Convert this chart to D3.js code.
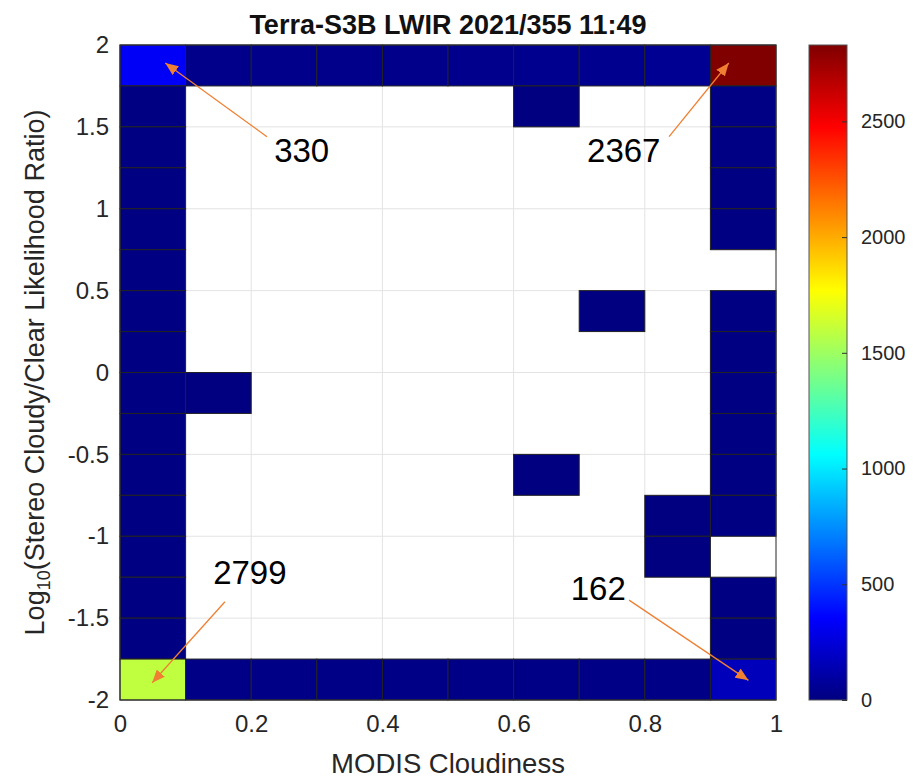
<!DOCTYPE html>
<html>
<head>
<meta charset="utf-8">
<script src="https://cdn.jsdelivr.net/npm/d3@7"></script>
<style>
body { margin: 0; background: #fff; }
text { font-family: "Liberation Sans", Arial, sans-serif; }
</style>
</head>
<body>
<div id="chart"></div>
<script>
// bin edges (x = MODIS cloudiness, y = log10 ratio, top row first)
const xEdges = [0, 0.1, 0.2, 0.3, 0.4, 0.5, 0.6, 0.7, 0.8, 0.9, 1];
const yEdges = [2, 1.75, 1.5, 1.25, 1, 0.75, 0.5, 0.25, 0, -0.25, -0.5, -0.75, -1, -1.25, -1.5, -1.75, -2];

// counts per cell, one row per y bin (top to bottom), 0 = empty
const counts = [
  [330, 30, 30, 30, 30, 35, 40, 40, 55, 2830],
  [8, 0, 0, 0, 0, 0, 4, 0, 0, 12],
  [8, 0, 0, 0, 0, 0, 0, 0, 0, 12],
  [8, 0, 0, 0, 0, 0, 0, 0, 0, 10],
  [8, 0, 0, 0, 0, 0, 0, 0, 0, 10],
  [8, 0, 0, 0, 0, 0, 0, 0, 0, 0],
  [8, 0, 0, 0, 0, 0, 0, 3, 0, 10],
  [8, 0, 0, 0, 0, 0, 0, 0, 0, 10],
  [8, 3, 0, 0, 0, 0, 0, 0, 0, 10],
  [8, 0, 0, 0, 0, 0, 0, 0, 0, 10],
  [8, 0, 0, 0, 0, 0, 3, 0, 0, 10],
  [8, 0, 0, 0, 0, 0, 0, 0, 4, 10],
  [8, 0, 0, 0, 0, 0, 0, 0, 4, 0],
  [8, 0, 0, 0, 0, 0, 0, 0, 0, 10],
  [8, 0, 0, 0, 0, 0, 0, 0, 0, 10],
  [1590, 20, 20, 20, 20, 20, 20, 20, 20, 162]
];

const xTicks = [0, 0.2, 0.4, 0.6, 0.8, 1];
const yTicks = [-2, -1.5, -1, -0.5, 0, 0.5, 1, 1.5, 2];
const cTicks = [0, 500, 1000, 1500, 2000, 2500];
const cMax = 2830;

// callouts, in data coordinates
const noteLabels = ["330", "2367", "2799", "162"];
const noteText = [[0.235, 1.285], [0.712, 1.285], [0.142, -1.29], [0.687, -1.39]];
const noteTail = [[0.224, 1.44], [0.837, 1.44], [0.160, -1.40], [0.776, -1.39]];
const noteTip = [[0.069, 1.89], [0.928, 1.89], [0.049, -1.895], [0.958, -1.88]];

const W = 921, H = 778;
const plot = {left: 120, right: 776, top: 45, bottom: 700};
const cbar = {left: 809, right: 847};

const svg = d3.select("#chart").append("svg")
  .attr("width", W).attr("height", H);

const x = d3.scaleLinear().domain([0, 1]).range([plot.left, plot.right]);
const y = d3.scaleLinear().domain([-2, 2]).range([plot.bottom, plot.top]);
const c = d3.scaleLinear().domain([0, cMax]).range([plot.bottom, plot.top]);

// matlab jet
function jet(t) {
  const cl = v => Math.max(0, Math.min(1, v));
  const r = cl(1.5 - Math.abs(4 * t - 3));
  const g = cl(1.5 - Math.abs(4 * t - 2));
  const b = cl(1.5 - Math.abs(4 * t - 1));
  return d3.rgb(r * 255, g * 255, b * 255).formatHex();
}
const color = v => jet(v / cMax);

// grid
svg.append("g").selectAll("line").data(xTicks).join("line")
  .attr("x1", d => x(d)).attr("x2", d => x(d))
  .attr("y1", plot.top).attr("y2", plot.bottom)
  .attr("stroke", "#e3e3e3");
svg.append("g").selectAll("line").data(yTicks).join("line")
  .attr("y1", d => y(d)).attr("y2", d => y(d))
  .attr("x1", plot.left).attr("x2", plot.right)
  .attr("stroke", "#e3e3e3");

// cells
const cells = [];
counts.forEach((row, r) => row.forEach((v, k) => {
  if (v > 0) cells.push({r, k, v});
}));
svg.append("g").selectAll("rect").data(cells).join("rect")
  .attr("x", d => x(xEdges[d.k]))
  .attr("y", d => y(yEdges[d.r]))
  .attr("width", d => x(xEdges[d.k + 1]) - x(xEdges[d.k]))
  .attr("height", d => y(yEdges[d.r + 1]) - y(yEdges[d.r]))
  .attr("fill", d => color(d.v))
  .attr("stroke", "#222")
  .attr("stroke-width", 1);

// box
svg.append("rect")
  .attr("x", plot.left).attr("y", plot.top)
  .attr("width", plot.right - plot.left).attr("height", plot.bottom - plot.top)
  .attr("fill", "none").attr("stroke", "#333").attr("stroke-width", 1);

// axes
const xAxis = svg.append("g")
  .attr("transform", `translate(0,${plot.bottom})`)
  .call(d3.axisBottom(x).tickValues(xTicks).tickSize(0).tickPadding(10).tickFormat(d => String(d)));
const yAxis = svg.append("g")
  .attr("transform", `translate(${plot.left},0)`)
  .call(d3.axisLeft(y).tickValues(yTicks).tickSize(0).tickPadding(11).tickFormat(d => String(d)));
[xAxis, yAxis].forEach(a => {
  a.select(".domain").remove();
  a.selectAll("text").attr("font-size", 24).attr("fill", "#262626")
    .attr("font-family", "Liberation Sans, Arial, sans-serif");
});
xAxis.selectAll("text").attr("dy", "0.92em");

// title and labels
svg.append("text")
  .attr("x", (plot.left + plot.right) / 2).attr("y", 34)
  .attr("text-anchor", "middle").attr("font-weight", "bold")
  .attr("font-size", 27).attr("fill", "#111")
  .text("Terra-S3B LWIR 2021/355 11:49");

svg.append("text")
  .attr("x", (plot.left + plot.right) / 2).attr("y", 773)
  .attr("text-anchor", "middle").attr("font-size", 27.5).attr("fill", "#262626")
  .text("MODIS Cloudiness");

const yl = svg.append("text")
  .attr("transform", `translate(44,${(plot.top + plot.bottom) / 2}) rotate(-90)`)
  .attr("text-anchor", "middle").attr("font-size", 27).attr("fill", "#262626");
yl.append("tspan").text("Log");
yl.append("tspan").attr("font-size", 18).attr("dy", 6).text("10");
yl.append("tspan").attr("dy", -6).text("(Stereo Cloudy/Clear Likelihood Ratio)");

// colorbar
const defs = svg.append("defs");
const grad = defs.append("linearGradient").attr("id", "jetgrad")
  .attr("x1", 0).attr("y1", 1).attr("x2", 0).attr("y2", 0);
grad.selectAll("stop").data(d3.range(0, 1.0001, 1 / 64)).join("stop")
  .attr("offset", d => d).attr("stop-color", d => jet(d));

svg.append("rect")
  .attr("x", cbar.left).attr("y", c(cMax))
  .attr("width", cbar.right - cbar.left).attr("height", c(0) - c(cMax))
  .attr("fill", "url(#jetgrad)").attr("stroke", "#555").attr("stroke-width", 1);

const cAxis = svg.append("g")
  .attr("transform", `translate(${cbar.right},0)`)
  .call(d3.axisRight(c).tickValues(cTicks).tickSizeInner(-5).tickSizeOuter(0).tickPadding(14).tickFormat(d => String(d)));
cAxis.select(".domain").remove();
cAxis.selectAll("line").attr("stroke", "#333");
cAxis.selectAll("text").attr("font-size", 20).attr("fill", "#262626")
  .attr("font-family", "Liberation Sans, Arial, sans-serif");

// callout arrows
defs.append("marker").attr("id", "head")
  .attr("viewBox", "0 0 12 10").attr("refX", 12).attr("refY", 5)
  .attr("markerWidth", 13).attr("markerHeight", 11)
  .attr("markerUnits", "userSpaceOnUse").attr("orient", "auto")
  .append("path").attr("d", "M0,0L12,5L0,10Z").attr("fill", "#ef8033");

const notes = noteLabels.map((t, i) => ({t, p: noteText[i], a: noteTail[i], b: noteTip[i]}));
svg.append("g").selectAll("line").data(notes).join("line")
  .attr("x1", d => x(d.a[0])).attr("y1", d => y(d.a[1]))
  .attr("x2", d => x(d.b[0])).attr("y2", d => y(d.b[1]))
  .attr("stroke", "#ef8033").attr("stroke-width", 1.3)
  .attr("marker-end", "url(#head)");
svg.append("g").selectAll("text").data(notes).join("text")
  .attr("x", d => x(d.p[0])).attr("y", d => y(d.p[1]))
  .attr("font-family", "Noto Sans, Open Sans, sans-serif")
  .attr("font-size", 33).attr("fill", "#000")
  .text(d => d.t);
</script>
</body>
</html>
